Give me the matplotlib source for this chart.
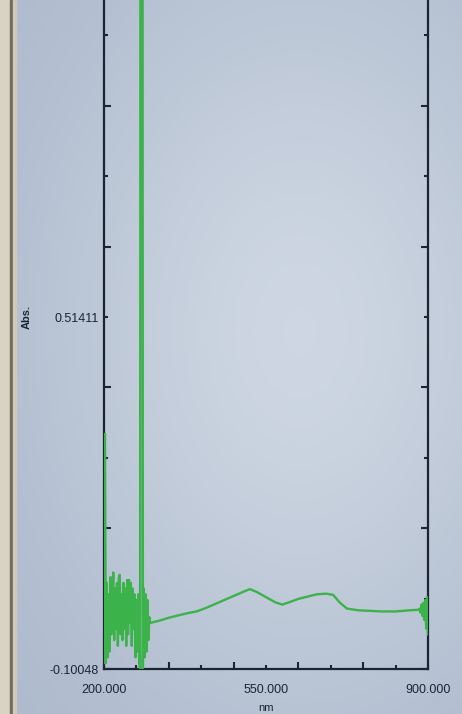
import matplotlib
matplotlib.use('Agg')
import numpy as np
import matplotlib.pyplot as plt
from matplotlib.patches import Rectangle
from matplotlib.colors import LinearSegmentedColormap

plt.rcParams['font.family'] = ['Liberation Sans', 'DejaVu Sans']

# noisy start of the scan (200-300 nm, every 2 nm) incl. the lamp-change spike
wl_start = list(range(200, 302, 2))
abs_start = [-0.09, 0.31, -0.09, 0.05, -0.08, 0.03, -0.07, 0.06, -0.04, 0.02,
             0.068, -0.05, 0.04, -0.03, 0.05, -0.06, 0.06, 0.064, -0.04, 0.03,
             -0.05, 0.05, -0.03, 0.04, -0.06, 0.055, -0.04, 0.055, -0.02, 0.05,
             -0.06, 0.04, -0.03, 0.03, -0.08, 0.02, -0.07, 0.03, -0.09, -0.1,
             3.5, 3.5, -0.1, 0.04, -0.08, 0.03, -0.07, 0.02, -0.05, -0.01,
             -0.02]

# smooth part of the spectrum
wl_mid = [320, 340, 360, 380, 400, 420, 440, 460, 480, 500, 515, 530, 550,
          570, 585, 600, 620, 640, 660, 680, 695, 710, 725, 750, 775, 800,
          830, 860, 880]
abs_mid = [-0.016, -0.011, -0.007, -0.003, 0.000, 0.006, 0.013, 0.020, 0.027,
           0.034, 0.039, 0.034, 0.025, 0.016, 0.012, 0.016, 0.022, 0.026,
           0.030, 0.031, 0.029, 0.015, 0.005, 0.002, 0.001, 0.000, 0.000,
           0.002, 0.003]

# noisy end of the scan
wl_end = [882, 884, 886, 888, 890, 892, 894, 896, 898, 900]
abs_end = [0.005, -0.002, 0.012, -0.008, 0.015, -0.015, 0.02, -0.03, 0.025, -0.04]

wl = np.array(wl_start + wl_mid + wl_end)
absorb = np.array(abs_start + abs_mid + abs_end)

y_min = -0.10048
y_step = (0.51411 - y_min) / 5
y_ticks = [y_min + k * y_step for k in range(10)]
x_ticks = list(range(200, 901, 70))

bg = '#bac5d6'
ink = '#1c2433'

fig = plt.figure(figsize=(4.62, 7.14), dpi=100, facecolor=bg)

# soft glare of the photographed screen
bg_ax = fig.add_axes([0, 0, 1, 1], zorder=-2)
yy, xx = np.mgrid[0:714, 0:462]
glare = np.exp(-(((xx - 300) / 260.0) ** 2 + ((yy - 330) / 380.0) ** 2))
glare_cmap = LinearSegmentedColormap.from_list('glare', ['#abb8cb', '#cdd6e2'])
bg_ax.imshow(glare, cmap=glare_cmap, aspect='auto', extent=[0, 1, 0, 1],
             origin='upper', vmin=0, vmax=1)
bg_ax.axis('off')

# monitor bezel strip on the left of the photo
fig.patches.append(Rectangle((0, 0), 10 / 462, 1, transform=fig.transFigure,
                             color='#d9d3c6', zorder=1))
fig.patches.append(Rectangle((10 / 462, 0), 3 / 462, 1, transform=fig.transFigure,
                             color='#75695a', zorder=1))
fig.patches.append(Rectangle((13 / 462, 0), 3 / 462, 1, transform=fig.transFigure,
                             color='#cfc9bb', zorder=1))

ax = fig.add_axes([104 / 462, 45 / 714, 324 / 462, 669 / 714])
ax.set_facecolor('none')
ax.plot(wl, absorb, color='#3cb24a', lw=1.7, zorder=3)

ax.set_xlim(200, 900)
ax.set_ylim(y_min, y_min + 669 / 70.4 * y_step)

ax.spines['top'].set_visible(False)
for side in ['left', 'right', 'bottom']:
    ax.spines[side].set_color(ink)
    ax.spines[side].set_linewidth(1.6)

ax.set_xticks(x_ticks)
ax.set_xticklabels(['200.000' if x == 200 else '550.000' if x == 550 else
                    '900.000' if x == 900 else '' for x in x_ticks])
ax.set_yticks(y_ticks)
ax.set_yticklabels(['-0.10048' if k == 0 else '0.51411' if k == 5 else ''
                    for k in range(10)])
ax.tick_params(axis='both', direction='in', color=ink, width=1.5, length=4,
               labelsize=9, labelcolor=ink, pad=4)
ax.tick_params(axis='x', pad=11)
ax.tick_params(axis='y', right=True)
for i, t in enumerate(ax.xaxis.get_major_ticks()):
    t.tick1line.set_markersize(5 if i % 2 == 0 else 3)
for i, t in enumerate(ax.yaxis.get_major_ticks()):
    t.tick1line.set_markersize(5 if i % 2 == 0 else 3)
    t.tick2line.set_markersize(5 if i % 2 == 0 else 3)

fig.text(27 / 462, 1 - 317 / 714, 'Abs.', rotation=90, ha='center',
         va='center', fontsize=8, color=ink, fontweight='bold')
fig.text(266 / 462, 1 / 714, 'nm', ha='center', va='bottom',
         fontsize=8, color=ink)

fig.savefig('out.png', dpi=100, facecolor=bg)
